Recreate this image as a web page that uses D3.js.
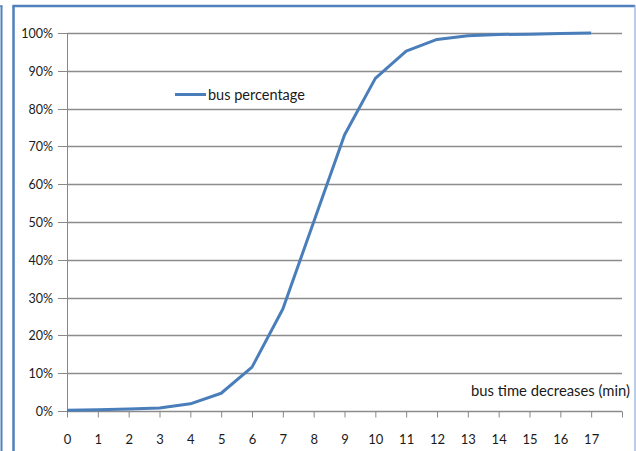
<!DOCTYPE html>
<html><head><meta charset="utf-8">
<script src="https://cdn.jsdelivr.net/npm/d3@7"></script>
<style>
html,body{margin:0;padding:0;background:#fff;}
svg{display:block;}
text{font-family:Lato,"Open Sans",sans-serif;fill:#1a1a1a;}
</style></head><body>
<svg id="chart" width="636" height="451"></svg>
<script>
const categories = [0,1,2,3,4,5,6,7,8,9,10,11,12,13,14,15,16,17];
const busPercentage = [0.2,0.3,0.5,0.8,1.9,4.7,11.6,27,50,73,88,95.2,98.3,99.3,99.6,99.7,99.9,100];
const yTicks = [0,10,20,30,40,50,60,70,80,90,100];
const seriesName = "bus percentage";
const xTitle = "bus time decreases (min)";

const svg = d3.select("#chart");
// frames
svg.append("line").attr("x1",1.5).attr("x2",1.5).attr("y1",6).attr("y2",451).attr("stroke","#4f81bd").attr("stroke-width",2);
svg.append("line").attr("x1",0).attr("x2",2.5).attr("y1",6).attr("y2",6).attr("stroke","#4f81bd").attr("stroke-width",1.5);
svg.append("line").attr("x1",13.5).attr("x2",13.5).attr("y1",5.5).attr("y2",451).attr("stroke","#4f81bd").attr("stroke-width",2.5);
svg.append("line").attr("x1",12.5).attr("x2",635).attr("y1",6).attr("y2",6).attr("stroke","#4f81bd").attr("stroke-width",2.5);
svg.append("line").attr("x1",635).attr("x2",635).attr("y1",5).attr("y2",451).attr("stroke","#8eaadb").attr("stroke-width",1.2);

const x = d3.scaleLinear().domain([0,18]).range([67,622]);
const y = d3.scaleLinear().domain([0,100]).range([411,33]);

// gridlines + y axis
const yAxis = d3.axisLeft(y).tickValues(yTicks).tickSize(9).tickFormat(d=>d+"%");
const gy = svg.append("g").attr("transform","translate(67,0)").call(yAxis);
gy.select(".domain").attr("stroke","#888");
gy.selectAll(".tick line").attr("stroke","#888");
gy.selectAll(".tick text").attr("x",-14).attr("font-size",12.5).attr("fill","#1a1a1a");
svg.append("g").selectAll("line").data(yTicks).join("line")
  .attr("x1",67).attr("x2",622).attr("y1",d=>Math.round(y(d))+0.5).attr("y2",d=>Math.round(y(d))+0.5)
  .attr("stroke","#8c8c8c").attr("stroke-width",1.3);
gy.selectAll(".tick").attr("transform",d=>`translate(0,${Math.round(y(d))+0.5})`);

// x axis
const xAxis = d3.axisBottom(x).tickValues(d3.range(0,19)).tickSize(6).tickFormat(d=>d<=17?d:"");
const gx = svg.append("g").attr("transform","translate(0,411.5)").call(xAxis);
gx.select(".domain").remove();
gx.selectAll(".tick line").attr("stroke","#888");
gx.selectAll(".tick text").attr("y",23).attr("font-size",13).attr("fill","#1a1a1a");

// line
svg.append("path").datum(categories.map((c,i)=>[c,busPercentage[i]]))
  .attr("fill","none").attr("stroke","#4a7ebb").attr("stroke-width",3).attr("stroke-linejoin","round")
  .attr("d",d3.line().x(d=>x(d[0])).y(d=>y(d[1])));

// legend
svg.append("line").attr("x1",175).attr("x2",206).attr("y1",94.5).attr("y2",94.5).attr("stroke","#4a7ebb").attr("stroke-width",3);
svg.append("text").attr("x",208).attr("y",100).attr("font-size",14.5).text(seriesName);

// x title
svg.append("text").attr("x",630).attr("y",395.5).attr("text-anchor","end").attr("font-size",14.8).text(xTitle);
</script>
</body></html>
